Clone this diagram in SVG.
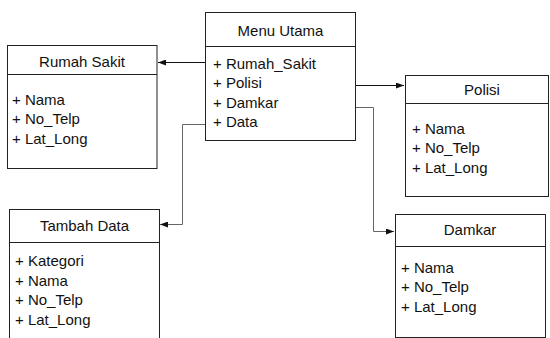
<svg xmlns="http://www.w3.org/2000/svg" width="550" height="338" viewBox="0 0 550 338">
<style>
.box{fill:#fff;stroke:#222;stroke-width:1}
.div{stroke:#222;stroke-width:1}
text{font-family:"Liberation Sans",Arial,sans-serif;font-size:15px;fill:#111}
.t{text-anchor:middle}
.c{fill:none;stroke:#111;stroke-width:1}
.g{fill:none;stroke:#666;stroke-width:1}
</style>
<defs>
<marker id="ah" markerWidth="8" markerHeight="6" refX="8" refY="3" orient="auto" markerUnits="userSpaceOnUse">
<path d="M0,0 L8,3 L0,6 z" fill="#111"/>
</marker>
</defs>
<rect width="550" height="338" fill="#fff"/>
<g id="connectors">
<path class="c" d="M205.5,62.5 H158" marker-end="url(#ah)"/>
<path class="c" d="M356,85.5 H404" marker-end="url(#ah)"/>
<path class="g" d="M356,107.5 H373.5 V231.5 H394" marker-end="url(#ah)"/>
<path class="g" d="M205,124.5 H182.5 V224.5 H160" marker-end="url(#ah)"/>
</g>
<g id="menu-utama">
<rect class="box" x="205.5" y="12.5" width="150" height="128"/>
<line class="div" x1="205.5" y1="46.5" x2="355.5" y2="46.5"/>
<text class="t" x="280.5" y="36">Menu Utama</text>
<text x="213" y="69">+ Rumah_Sakit</text>
<text x="213" y="88">+ Polisi</text>
<text x="213" y="107.5">+ Damkar</text>
<text x="213" y="127">+ Data</text>
</g>
<g id="rumah-sakit">
<rect class="box" x="7.5" y="45.5" width="149.5" height="123"/>
<line class="div" x1="7.5" y1="74.5" x2="157" y2="74.5"/>
<text class="t" x="82" y="67">Rumah Sakit</text>
<text x="12" y="105">+ Nama</text>
<text x="12" y="124">+ No_Telp</text>
<text x="12" y="143.5">+ Lat_Long</text>
</g>
<g id="polisi">
<rect class="box" x="405.5" y="75.5" width="143" height="121"/>
<line class="div" x1="405.5" y1="103.5" x2="548.5" y2="103.5"/>
<text class="t" x="482" y="95">Polisi</text>
<text x="412" y="134">+ Nama</text>
<text x="412" y="153">+ No_Telp</text>
<text x="412" y="172.5">+ Lat_Long</text>
</g>
<g id="damkar">
<rect class="box" x="395.5" y="214.5" width="150" height="123"/>
<line class="div" x1="395.5" y1="246.5" x2="545.5" y2="246.5"/>
<text class="t" x="470" y="235">Damkar</text>
<text x="401" y="272.5">+ Nama</text>
<text x="401" y="292">+ No_Telp</text>
<text x="401" y="311.5">+ Lat_Long</text>
</g>
<g id="tambah-data">
<rect class="box" x="9.5" y="209.5" width="150" height="140"/>
<line class="div" x1="9.5" y1="242.5" x2="159.5" y2="242.5"/>
<text class="t" x="84.5" y="231">Tambah Data</text>
<text x="15" y="266">+ Kategori</text>
<text x="15" y="285.5">+ Nama</text>
<text x="15" y="305">+ No_Telp</text>
<text x="15" y="324.5">+ Lat_Long</text>
</g>
</svg>
